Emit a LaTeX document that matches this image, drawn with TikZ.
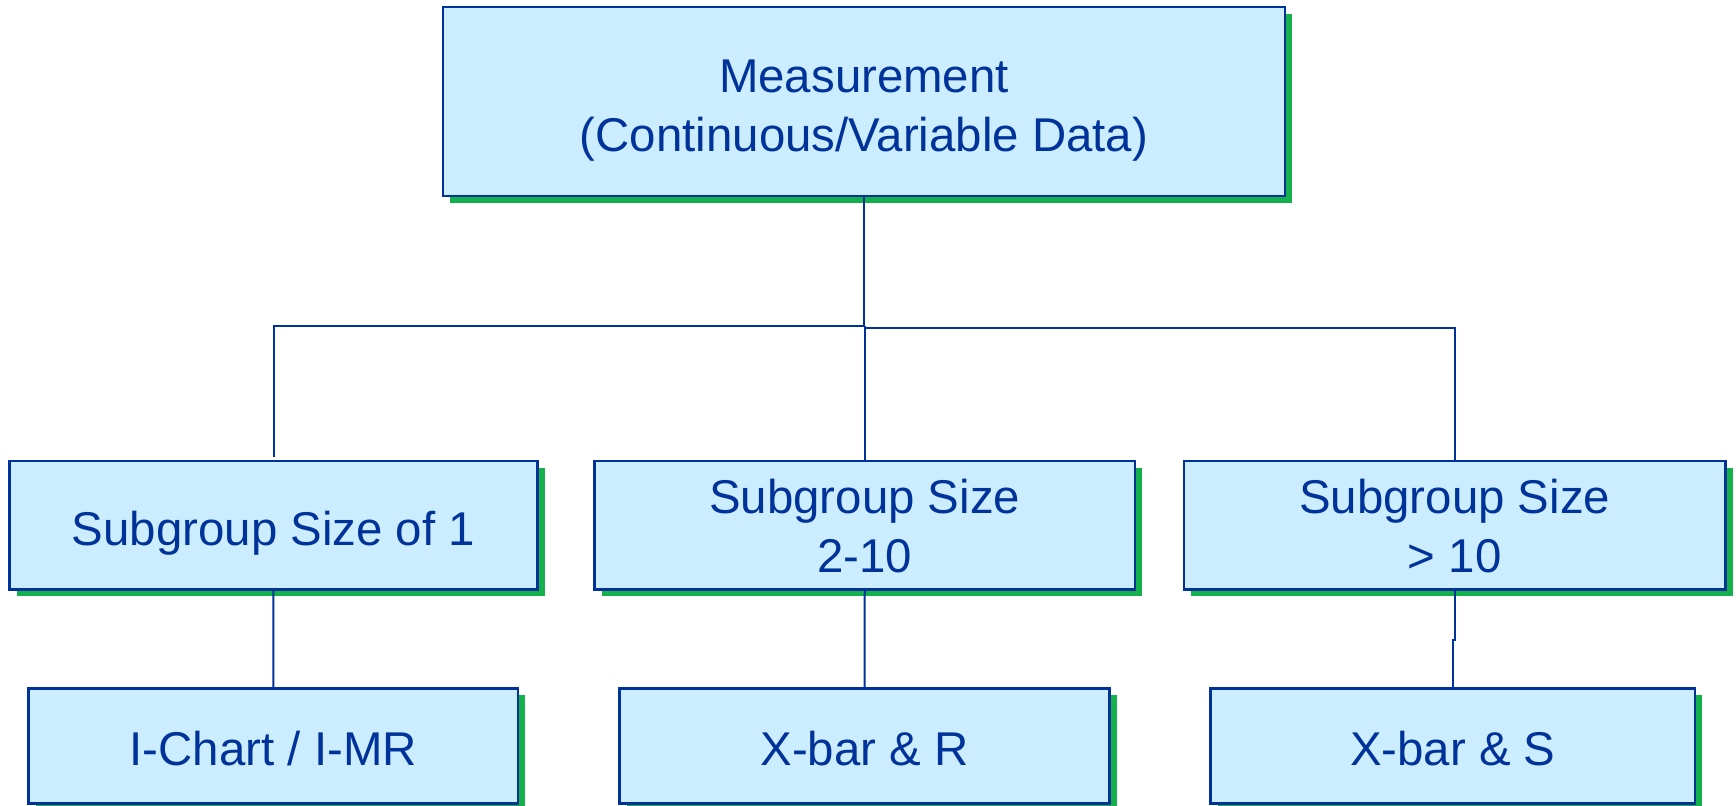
\documentclass[tikz,border=0pt]{standalone}
\usepackage{fontspec}
\setmainfont{Liberation Sans}
\usetikzlibrary{shadows}
\definecolor{boxfill}{RGB}{204,236,255}
\definecolor{bordblue}{RGB}{0,51,153}
\definecolor{shgreen}{RGB}{20,176,75}
\newcommand{\lowertext}[2]{\raisebox{-#1}[\height][\depth]{\begin{tabular}{@{}c@{}}#2\end{tabular}}}
\tikzset{
  box/.style={draw=bordblue, line width=1.15pt, fill=boxfill, text=bordblue,
    align=center, inner sep=0pt, rectangle,
    font=\fontsize{23.7}{29.5}\selectfont,
    drop shadow={shadow xshift=3.5pt, shadow yshift=-3.5pt, fill=shgreen, opacity=1}},
  conn/.style={draw=bordblue, line width=1pt}
}
\begin{document}
\begin{tikzpicture}[x=0.5pt,y=-0.5pt]
\useasboundingbox (0,0) rectangle (1736,806);
\node[box, minimum width=421pt, minimum height=94.5pt] (top) at (864,101.5) {\lowertext{4.6pt}{Measurement\\(Continuous/Variable Data)}};
\node[box, minimum width=264pt, minimum height=64.25pt] (b1) at (273.5,525.25) {\lowertext{4.2pt}{Subgroup Size of 1}};
\node[box, minimum width=270.25pt, minimum height=64.25pt] (b2) at (864.75,525.25) {\lowertext{2.9pt}{Subgroup Size\\2-10}};
\node[box, minimum width=270.75pt, minimum height=64.25pt] (b3) at (1454.75,525.25) {\lowertext{2.9pt}{Subgroup Size\\> 10}};
\node[box, minimum width=244.75pt, minimum height=57.5pt] (c1) at (273.25,746) {\lowertext{4.1pt}{I-Chart / I-MR}};
\node[box, minimum width=245pt, minimum height=57.5pt] (c2) at (864.5,746) {\lowertext{4.1pt}{X-bar \& R}};
\node[box, minimum width=242.25pt, minimum height=57.5pt] (c3) at (1452.75,746) {\lowertext{4.1pt}{X-bar \& S}};
\coordinate (busL) at (864,326);
\coordinate (busR) at (864,328.5);
\draw[conn] (top.south) -- (busL) -| ([yshift=1.5pt]b1.north);
\draw[conn] (busR) -| (b3.north);
\draw[conn] (b2.north) -- (b2.north |- busL);
\draw[conn] (b1.south) -- (c1.north);
\draw[conn] (b2.south) -- (c2.north);
\draw[conn] (b3.south) -- ++(0,49.5) -| (c3.north);
\end{tikzpicture}
\end{document}
